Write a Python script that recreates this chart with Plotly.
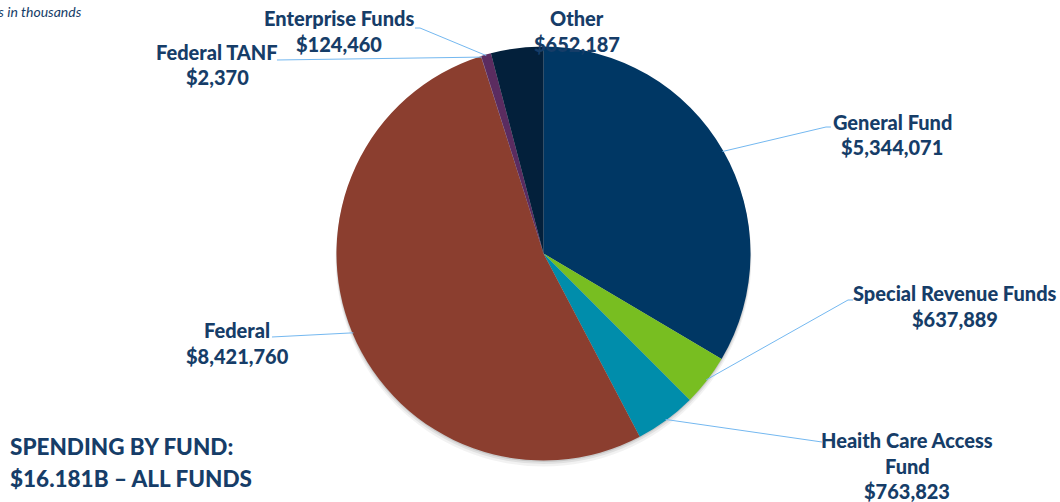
import numpy as np
import plotly.graph_objects as go

# Spending by fund, dollars in thousands (clockwise from 12 o'clock)
funds = ["General Fund", "Special Revenue Funds", "Heaith Care Access Fund",
         "Federal", "Federal TANF", "Enterprise Funds", "Other"]
amounts = [5344071, 637889, 763823, 8421760, 2370, 124460, 652187]
colors = ["#003764", "#78BE21", "#008DAB", "#8B3E2F", "#7A5A9E", "#5B2C60", "#03203B"]
label_lines = [
    ["General Fund", "$5,344,071"],
    ["Special Revenue Funds", "$637,889"],
    ["Heaith Care Access", "Fund", "$763,823"],
    ["Federal", "$8,421,760"],
    ["Federal TANF", "$2,370"],
    ["Enterprise Funds", "$124,460"],
    ["Other", "$652,187"],
]
title_lines = ["SPENDING BY FUND:", "$16.181B \u2013 ALL FUNDS"]
units_note = "Dollars in thousands"

W, H = 1060, 502
CX, CY, R = 543.5, 253.5, 207.0
TEXT = "#163D68"
LEADER = "#74B8F0"
FONT = "Lato"


def px(x):
    return x / W


def py(y):
    return 1 - y / H


def pie_domain(cx, cy, r):
    return dict(x=[px(cx - r), px(cx + r)], y=[py(cy + r), py(cy - r)])


fig = go.Figure()

# soft drop shadow under the pie
for dy, dr, alpha in [(5, 1, 0.05), (3, 0.5, 0.07), (1.5, 0, 0.10)]:
    fig.add_trace(go.Pie(
        values=[1], marker=dict(colors=[f"rgba(0,0,0,{alpha})"], line=dict(width=0)),
        domain=pie_domain(CX, CY + dy, R + dr), textinfo="none", hoverinfo="skip",
        showlegend=False, sort=False,
    ))

fig.add_trace(go.Pie(
    labels=funds, values=amounts, sort=False, direction="clockwise", rotation=0,
    marker=dict(colors=colors, line=dict(width=0)),
    domain=pie_domain(CX, CY, R), textinfo="none", hoverinfo="label+value",
    showlegend=False,
))

# leader-line anchor on the rim: middle angle of each slice
vals = np.array(amounts, dtype=float)
ends = np.cumsum(vals) / vals.sum()
mids = (ends - vals / vals.sum() / 2) * 2 * np.pi
rim = [(CX + (R - 1) * np.sin(a), CY - (R - 1) * np.cos(a)) for a in mids]

# label block placement: (center x, first-line y) and leader path after the rim point
label_pos = [(892, 122), (955, 293), (907, 440), (237, 330), (217, 52), (339, 18), (577, 18)]
leader_paths = [
    [(826, 127), (831, 127)],
    [(848, 300), (853, 300)],
    [(822, 442)],
    [(272, 337)],
    [(277, 60)],
    [(420, 28), (415, 28)],
    None,
]
LINE_GAP = 25.5

annotations = []
shapes = []
for i, lines in enumerate(label_lines):
    x0, y0 = label_pos[i]
    for k, t in enumerate(lines):
        annotations.append(dict(
            x=px(x0), y=py(y0 + k * LINE_GAP), xref="paper", yref="paper",
            text=t, showarrow=False, xanchor="center", yanchor="middle",
            font=dict(family=FONT, size=20, color=TEXT, weight=900),
        ))
    if leader_paths[i]:
        pts = [rim[i]] + leader_paths[i]
        path = "M " + " L ".join(f"{px(a):.5f},{py(b):.5f}" for a, b in pts)
        shapes.append(dict(type="path", path=path, xref="paper", yref="paper",
                           line=dict(color=LEADER, width=1)))

for k, t in enumerate(title_lines):
    annotations.append(dict(
        x=px(8), y=py(446 + k * 32), xref="paper", yref="paper", text=t,
        showarrow=False, xanchor="left", yanchor="middle",
        font=dict(family=FONT, size=22.5, color=TEXT, weight=900),
    ))

annotations.append(dict(
    x=px(84), y=py(12), xref="paper", yref="paper", text=f"<i>{units_note}</i>",
    showarrow=False, xanchor="right", yanchor="middle",
    font=dict(family=FONT, size=14, color=TEXT),
))

fig.update_layout(
    width=W, height=H, margin=dict(l=0, r=0, t=0, b=0),
    paper_bgcolor="white", plot_bgcolor="white",
    annotations=annotations, shapes=shapes,
)

fig.write_html("out.html")
